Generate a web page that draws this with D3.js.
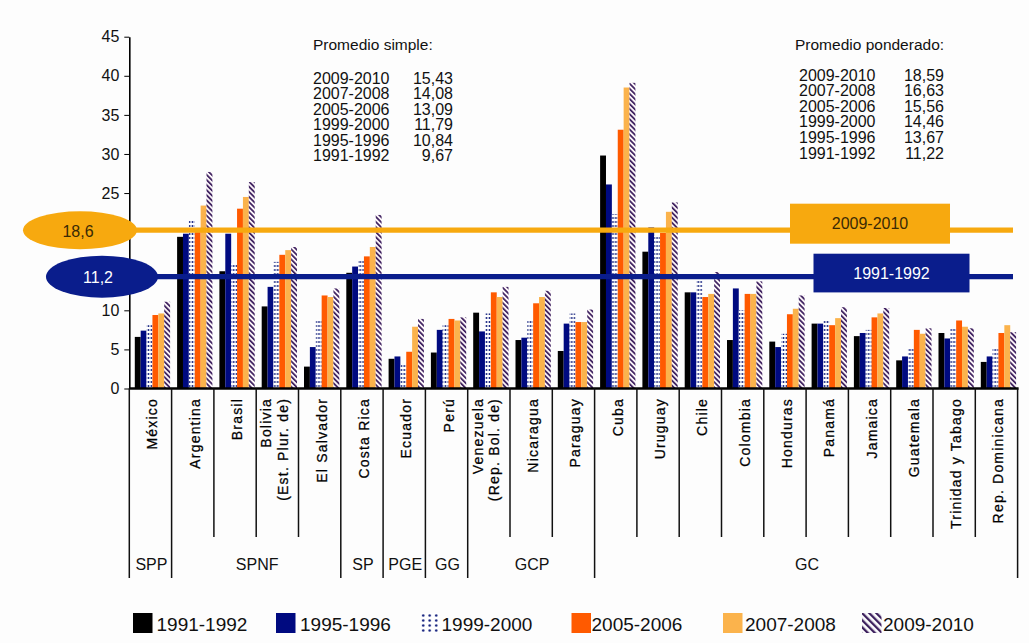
<!DOCTYPE html>
<html>
<head>
<meta charset="utf-8">
<script src="https://cdn.jsdelivr.net/npm/d3@7/dist/d3.min.js"></script>
<style>
  html, body { margin: 0; padding: 0; background: #fdfdfd; }
  svg { display: block; font-family: "Liberation Sans", Arial, sans-serif; }
</style>
</head>
<body>
<svg id="chart" width="1029" height="643"></svg>
<script>
// ---------------- DATA ----------------
const categories = ["México", "Argentina", "Brasil", "Bolivia", "El Salvador", "Costa Rica", "Ecuador", "Perú",
  "Venezuela", "Nicaragua", "Paraguay", "Cuba", "Uruguay", "Chile", "Colombia", "Honduras", "Panamá",
  "Jamaica", "Guatemala", "Trinidad y Tabago", "Rep. Dominicana"];
const categoryLabels = [["México"], ["Argentina"], ["Brasil"], ["Bolivia", "(Est. Plur. de)"], ["El Salvador"],
  ["Costa Rica"], ["Ecuador"], ["Perú"], ["Venezuela", "(Rep. Bol. de)"], ["Nicaragua"], ["Paraguay"], ["Cuba"],
  ["Uruguay"], ["Chile"], ["Colombia"], ["Honduras"], ["Panamá"], ["Jamaica"], ["Guatemala"],
  ["Trinidad y Tabago"], ["Rep. Dominicana"]];
const groupNames = ["SPP", "SPNF", "SP", "PGE", "GG", "GCP", "GC"];
const groupSizes = [1, 4, 1, 1, 1, 3, 10];

const seriesNames = ["1991-1992", "1995-1996", "1999-2000", "2005-2006", "2007-2008", "2009-2010"];
const s1991 = [6.6, 19.4, 15.0, 10.5, 2.8, 14.8, 3.8, 4.6, 9.7, 6.2, 4.8, 29.8, 17.5, 12.3, 6.2, 6.0, 8.3, 6.7, 3.6, 7.1, 3.4];
const s1995 = [7.4, 19.8, 19.8, 13.0, 5.3, 15.6, 4.1, 7.5, 7.3, 6.5, 8.3, 26.1, 20.6, 12.3, 12.8, 5.3, 8.3, 7.1, 4.1, 6.4, 4.1];
const s1999 = [8.1, 21.5, 16.0, 16.2, 8.8, 16.4, 3.0, 8.1, 9.6, 8.8, 9.6, 22.3, 19.5, 13.8, 10.0, 7.0, 8.7, 7.5, 5.1, 7.7, 5.3];
const s2005 = [9.4, 20.0, 23.0, 17.1, 11.9, 16.9, 4.7, 8.9, 12.3, 10.9, 8.5, 33.1, 19.9, 11.7, 12.1, 9.5, 8.1, 9.1, 7.5, 8.7, 7.1];
const s2007 = [9.6, 23.4, 24.5, 17.7, 11.7, 18.1, 7.9, 8.7, 11.7, 11.7, 8.5, 38.5, 22.6, 12.1, 12.1, 10.2, 9.0, 9.6, 7.0, 7.9, 8.1];
const s2009 = [11.1, 27.7, 26.4, 18.1, 12.8, 22.2, 8.9, 9.1, 13.0, 12.5, 10.1, 39.1, 23.8, 14.9, 13.7, 11.9, 10.4, 10.3, 7.7, 7.7, 7.2];
const seriesValues = [s1991, s1995, s1999, s2005, s2007, s2009];

const yTicks = [0, 5, 10, 15, 20, 25, 30, 35, 40, 45];
// labels 15 and 20 are hidden behind the ellipses in the original
const yTickLabels = ["0", "5", "10", "", "", "25", "30", "35", "40", "45"];

const simpleTitle = "Promedio simple:";
const simplePeriods = ["2009-2010", "2007-2008", "2005-2006", "1999-2000", "1995-1996", "1991-1992"];
const simpleValues = ["15,43", "14,08", "13,09", "11,79", "10,84", "9,67"];
const weightedTitle = "Promedio ponderado:";
const weightedPeriods = ["2009-2010", "2007-2008", "2005-2006", "1999-2000", "1995-1996", "1991-1992"];
const weightedValues = ["18,59", "16,63", "15,56", "14,46", "13,67", "11,22"];

// reference lines (position as drawn in the picture, on the chart's scale)
const refLabels = ["18,6", "11,2"];
const refBoxLabels = ["2009-2010", "1991-1992"];
const refLevels = [20.25, 14.3];

// ---------------- LAYOUT / STYLE ----------------
const svg = d3.select("#chart");
const x0 = 129.3, x1 = 1017.6, yBase = 388.5, yTop = 36.7;
const x = d3.scaleBand().domain(categories).range([x0, x1]).padding(0);
const xs = d3.scaleBand().domain(seriesNames).range([5.5, 40.8]).padding(0);
const y = d3.scaleLinear().domain([0, 45]).range([yBase, yTop]);

const defs = svg.append("defs");
const pd = defs.append("pattern").attr("id", "dots").attr("patternUnits", "userSpaceOnUse")
  .attr("width", 2.94).attr("height", 4);
pd.append("rect").attr("width", 2.94).attr("height", 4).attr("fill", "#ffffff");
pd.append("circle").attr("cx", 1.47).attr("cy", 2).attr("r", 0.95).attr("fill", "#0d1a7a");
const pdl = defs.append("pattern").attr("id", "dotsL").attr("patternUnits", "userSpaceOnUse")
  .attr("x", 420).attr("y", 613).attr("width", 6.5).attr("height", 5);
pdl.append("rect").attr("width", 6.5).attr("height", 5).attr("fill", "#ffffff");
pdl.append("circle").attr("cx", 3.2).attr("cy", 2.5).attr("r", 1.2).attr("fill", "#0d1a7a");
const ph = defs.append("pattern").attr("id", "hatch").attr("patternUnits", "userSpaceOnUse")
  .attr("width", 3.6).attr("height", 3.6).attr("patternTransform", "rotate(-45)");
ph.append("rect").attr("width", 3.6).attr("height", 3.6).attr("fill", "#fbf4f8");
ph.append("rect").attr("width", 1.7).attr("height", 3.6).attr("fill", "#3a1d5c");
const phl = defs.append("pattern").attr("id", "hatchL").attr("patternUnits", "userSpaceOnUse")
  .attr("width", 5).attr("height", 5).attr("patternTransform", "rotate(-45)");
phl.append("rect").attr("width", 5).attr("height", 5).attr("fill", "#ffffff");
phl.append("rect").attr("width", 2.3).attr("height", 5).attr("fill", "#3a1d5c");

const fills = ["#000000", "#000a80", "url(#dots)", "#ff5a00", "#fbb34c", "url(#hatch)"];
const legendFills = ["#000000", "#000a80", "url(#dotsL)", "#ff5a00", "#fbb34c", "url(#hatchL)"];

// ---------------- BARS ----------------
const barG = svg.append("g");
seriesNames.forEach((s, si) => {
  barG.selectAll(null).data(seriesValues[si]).enter().append("rect")
    .attr("x", (d, i) => x(categories[i]) + xs(s))
    .attr("width", xs.bandwidth())
    .attr("y", d => y(d))
    .attr("height", d => yBase - y(d))
    .attr("fill", fills[si]);
});

// ---------------- Y AXIS ----------------
const yAxis = d3.axisLeft(y).tickValues(yTicks).tickSize(5).tickSizeOuter(0)
  .tickFormat((d, i) => yTickLabels[i]);
const yg = svg.append("g").attr("transform", `translate(${x0},0)`).call(yAxis);
yg.select(".domain").attr("stroke", "#000").attr("stroke-width", 1.6);
yg.selectAll(".tick line").attr("stroke", "#000").attr("stroke-width", 1);
yg.selectAll(".tick text").attr("font-size", 16).attr("fill", "#111")
  .attr("font-family", "'Liberation Sans', Arial, sans-serif").attr("x", -10);

// ---------------- X AXIS / TABLE ----------------
svg.append("line").attr("x1", x0).attr("x2", x1 + 1).attr("y1", yBase).attr("y2", yBase)
  .attr("stroke", "#000").attr("stroke-width", 2.4);

const groupBounds = [0];
groupSizes.forEach(n => groupBounds.push(groupBounds[groupBounds.length - 1] + n));
const bw = x.bandwidth();
d3.range(categories.length + 1).forEach(i => {
  const xx = x0 + i * bw;
  const isGroup = groupBounds.includes(i);
  svg.append("line").attr("x1", xx).attr("x2", xx).attr("y1", yBase)
    .attr("y2", isGroup ? 578 : 537).attr("stroke", "#111").attr("stroke-width", 1.5);
});

categoryLabels.forEach((lines, i) => {
  const cx = x(categories[i]) + bw / 2;
  const offsets = lines.length === 1 ? [2] : [-11, 5.5];
  lines.forEach((t, k) => {
    svg.append("text")
      .attr("transform", `translate(${cx + offsets[k]},398) rotate(-90)`)
      .attr("text-anchor", "end").attr("dominant-baseline", "central")
      .attr("font-size", 14).attr("letter-spacing", 1.2).attr("fill", "#000")
      .attr("stroke", "#000").attr("stroke-width", 0.25)
      .text(t);
  });
});

groupNames.forEach((g, gi) => {
  const a = x0 + groupBounds[gi] * bw, b = x0 + groupBounds[gi + 1] * bw;
  svg.append("text").attr("x", (a + b) / 2 + 1).attr("y", 570).attr("text-anchor", "middle")
    .attr("font-size", 16).attr("fill", "#111").text(g);
});

// ---------------- REFERENCE LINES ----------------
const refColors = ["#f7a90f", "#0a1d8c"];
const ellipseC = [80, 102];
const ellipseR = [[57, 19], [56, 21]];
const boxes = [[790, 950, -26.5, 13.5], [813.5, 969.5, -23, 15.7]];
const boxText = ["#3a2a05", "#ffffff"];
refLevels.forEach((v, i) => {
  const yy = y(v);
  svg.append("line").attr("x1", ellipseC[i]).attr("x2", 1013).attr("y1", yy).attr("y2", yy)
    .attr("stroke", refColors[i]).attr("stroke-width", 5.2);
  svg.append("rect").attr("x", boxes[i][0]).attr("width", boxes[i][1] - boxes[i][0])
    .attr("y", yy + boxes[i][2]).attr("height", boxes[i][3] - boxes[i][2]).attr("fill", refColors[i]);
  svg.append("text").attr("x", (boxes[i][0] + boxes[i][1]) / 2).attr("y", yy + (boxes[i][2] + boxes[i][3]) / 2)
    .attr("text-anchor", "middle").attr("dominant-baseline", "central")
    .attr("font-size", 16).attr("fill", boxText[i]).text(refBoxLabels[i]);
  svg.append("ellipse").attr("cx", ellipseC[i]).attr("cy", yy)
    .attr("rx", ellipseR[i][0]).attr("ry", ellipseR[i][1]).attr("fill", refColors[i]);
  svg.append("text").attr("x", ellipseC[i] - (i === 0 ? 2 : 4)).attr("y", yy + 1)
    .attr("text-anchor", "middle").attr("dominant-baseline", "central")
    .attr("font-size", 16).attr("fill", boxText[i]).text(refLabels[i]);
});

// ---------------- AVERAGE TEXT BLOCKS ----------------
function block(title, periods, values, xl, xr, yTitle, yRow0, step, titleX) {
  svg.append("text").attr("x", titleX).attr("y", yTitle).attr("font-size", 15.5).attr("fill", "#111").text(title);
  periods.forEach((p, i) => {
    svg.append("text").attr("x", xl).attr("y", yRow0 + i * step).attr("font-size", 16).attr("fill", "#111").text(p);
    svg.append("text").attr("x", xr).attr("y", yRow0 + i * step).attr("text-anchor", "end")
      .attr("font-size", 16).attr("fill", "#111").text(values[i]);
  });
}
block(simpleTitle, simplePeriods, simpleValues, 313, 453, 50, 84, 15.4, 313);
block(weightedTitle, weightedPeriods, weightedValues, 799, 944, 50, 80.5, 15.6, 795);

// ---------------- LEGEND ----------------
const legendX = [133, 276, 420, 571.5, 723, 862];
const legendTextOff = [23.5, 24, 21.5, 20, 22, 21];
seriesNames.forEach((s, i) => {
  svg.append("rect").attr("x", legendX[i]).attr("y", 613).attr("width", 19.5).attr("height", 20)
    .attr("fill", legendFills[i]);
  svg.append("text").attr("x", legendX[i] + legendTextOff[i]).attr("y", 630.5)
    .attr("font-size", 19).attr("fill", "#111").text(s);
});
</script>
</body>
</html>
